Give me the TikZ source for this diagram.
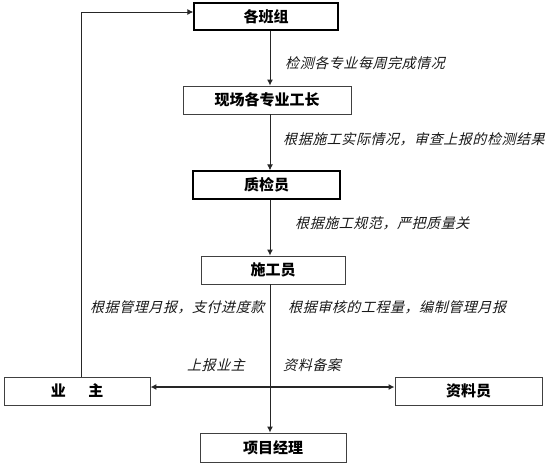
\documentclass[tikz,border=0pt]{standalone}
\usepackage{fontspec}
\newfontfamily\cjk{Noto Sans CJK SC}
\newfontfamily\cjki{Noto Sans CJK SC}[FakeSlant=0.25,LetterSpace=4]
\usetikzlibrary{arrows.meta,calc}
\begin{document}
\begin{tikzpicture}[x=1pt,y=-1pt,
  box/.style={draw=black!75, line width=0.9pt, minimum height=28pt, inner sep=0pt,
    font=\cjk\bfseries\fontsize{15}{15}\selectfont},
  boxk/.style={box, draw=black, line width=1.3pt},
  lab/.style={anchor=west, inner sep=0pt, text=black!90, font=\cjki\fontsize{14}{15}\selectfont},
  arr/.style={draw=black!85, line width=1pt, -{Latex[length=6pt,width=6pt]}},
  arrb/.style={draw=black!85, line width=1.2pt, {Latex[length=6pt,width=6pt]}-{Latex[length=6pt,width=6pt]}}]
\useasboundingbox (0,0) rectangle (548,469);
\fill[white] (0,0) rectangle (548,469);
% nodes
\node[boxk, minimum width=144pt, minimum height=27pt] (bz) at (266,16.5) {各班组};
\node[box, minimum width=168pt] (xc) at (267,100) {现场各专业工长};
\node[boxk, minimum width=147pt] (zj) at (266.5,185) {质检员};
\node[box, minimum width=144pt] (sg) at (273,270) {施工员};
\node[box, minimum width=146pt] (yz) at (77,391) {业\hspace{1.5em}主};
\node[box, minimum width=147pt] (zl) at (468.5,391) {资料员};
\node[box, minimum width=146pt, minimum height=29pt] (xm) at (273,447.5) {项目经理};
% helper coordinates
\coordinate (vx) at (270,0);
\coordinate (lx) at (81,0);
\coordinate (ty) at (0,12);
\coordinate (hy) at (0,387);
% vertical chain
\draw[arr] (bz.south -| vx) -- (xc.north -| vx);
\draw[arr] (xc.south -| vx) -- (zj.north -| vx);
\draw[arr] (zj.south -| vx) -- (sg.north -| vx);
\draw[arr] (sg.south -| vx) -- (xm.north -| vx);
% horizontal double arrow
\draw[arrb] (yz.east |- hy) -- (zl.west |- hy);
% feedback line
\draw[arr] (yz.north -| lx) -- (lx |- ty) -- (bz.west |- ty);
% labels
\node[lab] (l1) at (285,63) {检测各专业每周完成情况};
\node[lab] (l2) at (283,139) {根据施工实际情况，审查上报的检测结果};
\node[lab] (l3) at (295,223) {根据施工规范，严把质量关};
\node[lab] (l4) at (90,307) {根据管理月报，支付进度款};
\node[lab] (l5) at (288,307) {根据审核的工程量，编制管理月报};
\node[lab] (l6) at (187,365) {上报业主};
\node[lab] (l7) at (283,365) {资料备案};
\end{tikzpicture}
\end{document}
